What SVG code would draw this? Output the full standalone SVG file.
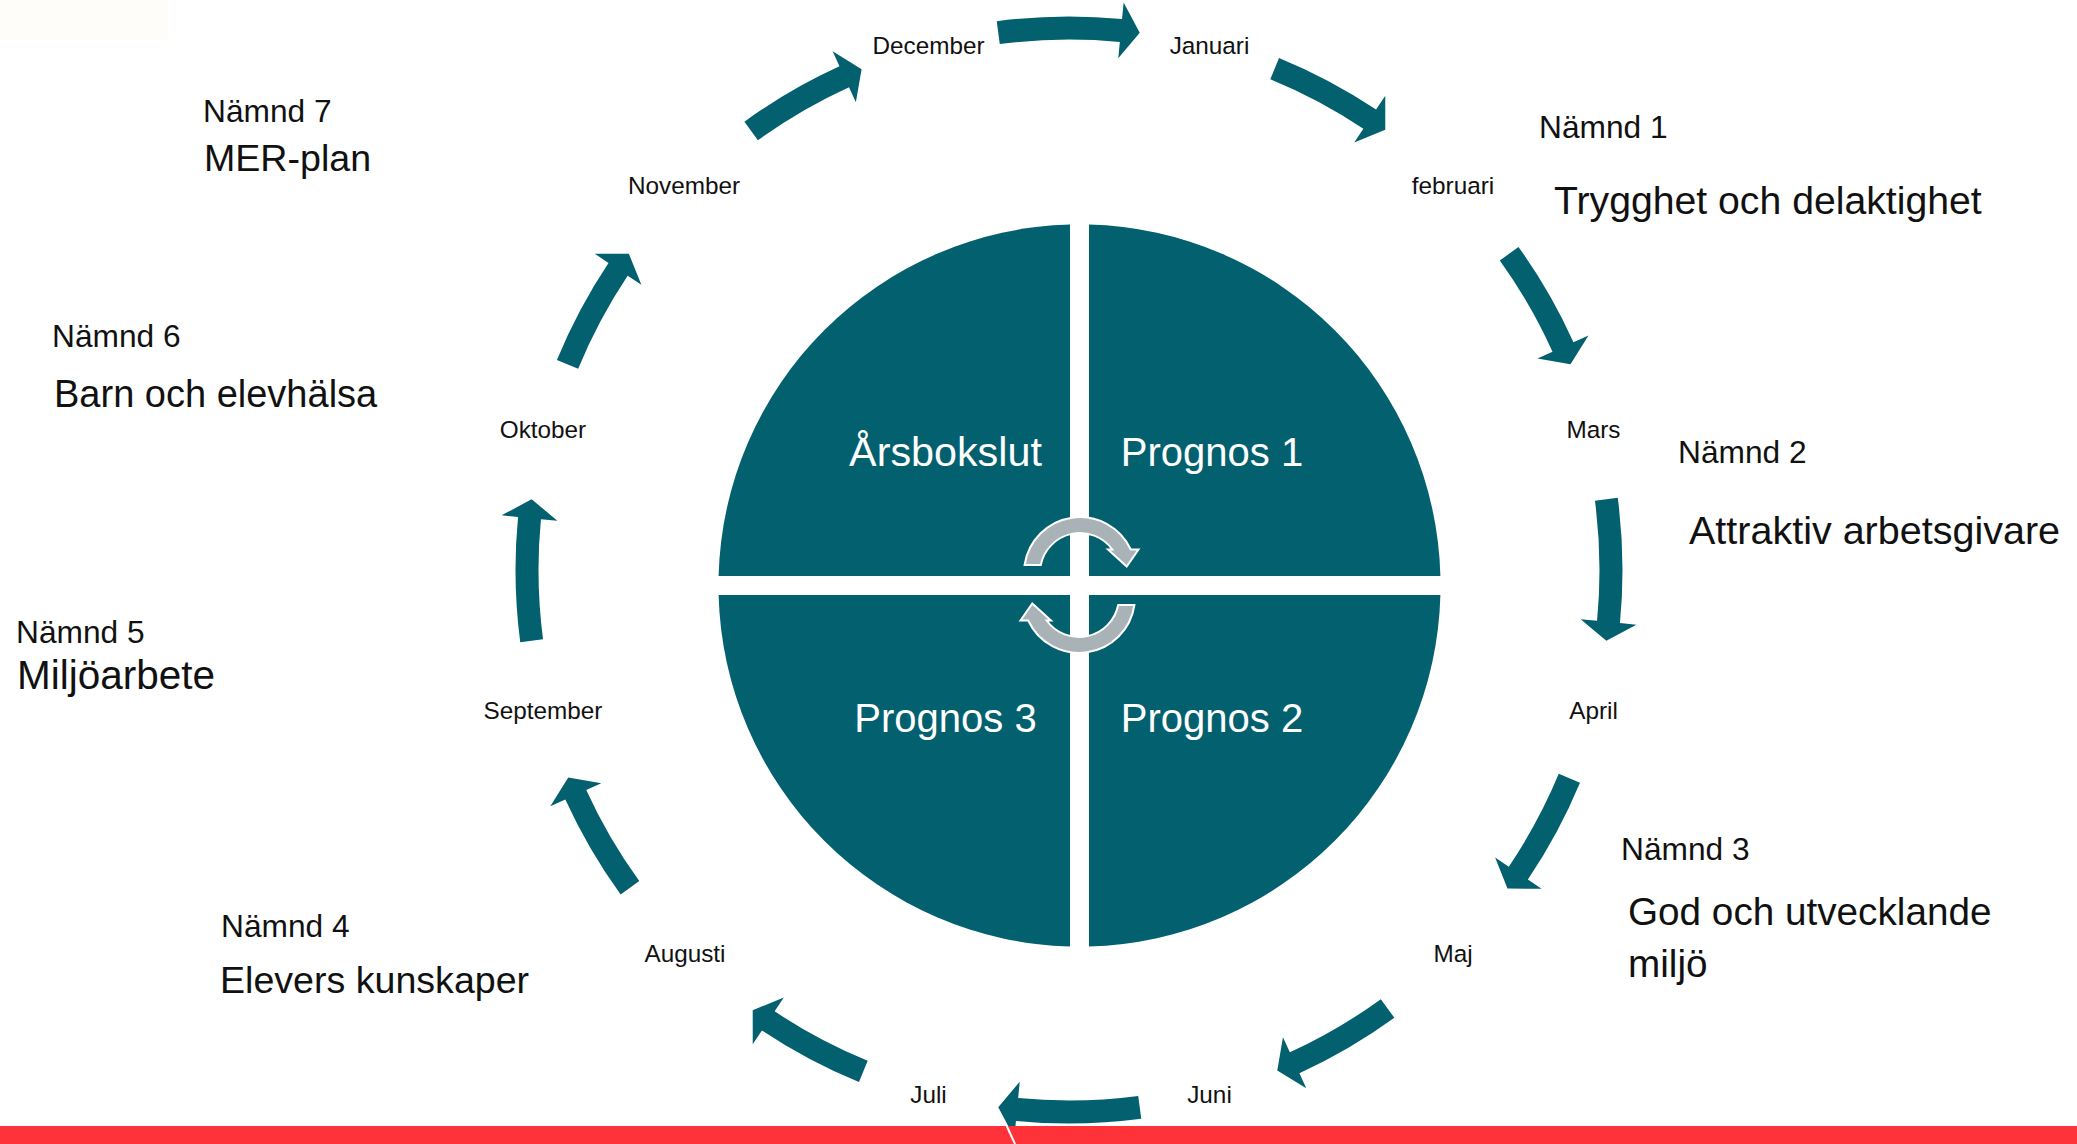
<svg xmlns="http://www.w3.org/2000/svg" xmlns:xlink="http://www.w3.org/1999/xlink" width="2077" height="1144" viewBox="0 0 2077 1144">
<style>
.q{fill:#03606F}
.ql{font-family:"Liberation Sans",Arial,sans-serif;font-size:40px;fill:#FFFFFF;text-anchor:middle}
.m{font-family:"Liberation Sans",Arial,sans-serif;font-size:24.3px;fill:#111111;text-anchor:middle}
.n{font-family:"Liberation Sans",Arial,sans-serif;font-size:31.7px;fill:#111111}
.t{font-family:"Liberation Sans",Arial,sans-serif;font-size:38px;fill:#111111}
.ra{fill:#03606F}
.ga{fill:#A8B2B7;stroke:#FFFFFF;stroke-width:2;stroke-linejoin:miter}
</style>
<defs>
<path id="ringArrow" d="M -72.25 -548.76 A 553.5 553.5 0 0 1 53.05 -550.95 L 54.63 -567.38 L 70.75 -537.36 L 49.26 -511.63 L 50.85 -528.06 A 530.5 530.5 0 0 0 -69.24 -525.96 Z"/>
<path id="ringArrowShort" d="M -64.58 -549.72 A 553.5 553.5 0 0 1 45.35 -551.64 L 46.71 -568.08 L 63.24 -538.30 L 42.12 -512.27 L 43.47 -528.72 A 530.5 530.5 0 0 0 -61.89 -526.88 Z"/>
<path id="cycleArrow" d="M 1024.6 565 A 56 56 0 0 1 1130.8 549.5 L 1138.5 549.5 L 1126.7 566.5 L 1108 549.5 L 1112.4 549.5 A 40 40 0 0 0 1040.8 565 Z"/>
</defs>
<rect x="0" y="0" width="2077" height="1144" fill="#FFFFFF"/>
<rect x="0" y="0" width="168" height="40" fill="#FFFDFA"/>

<g id="quadrants">
<g id="q-arsbokslut"><path class="q" d="M 1070 576 L 1070 224.6 A 361 361 0 0 0 718.6 576 Z"/><text class="ql" x="945.5" y="465.5" style="font-size:41.3px">Årsbokslut</text></g>
<g id="q-prognos1"><path class="q" d="M 1089 576 L 1440.4 576 A 361 361 0 0 0 1089 224.6 Z"/><text class="ql" x="1212" y="465.5">Prognos 1</text></g>
<g id="q-prognos2"><path class="q" d="M 1089 595 L 1089 946.4 A 361 361 0 0 0 1440.4 595 Z"/><text class="ql" x="1212" y="731.5">Prognos 2</text></g>
<g id="q-prognos3"><path class="q" d="M 1070 595 L 718.6 595 A 361 361 0 0 0 1070 946.4 Z"/><text class="ql" x="945.5" y="731.5">Prognos 3</text></g>
</g>

<g id="cycle-arrows">
<use xlink:href="#cycleArrow" href="#cycleArrow" class="ga"/>
<use xlink:href="#cycleArrow" href="#cycleArrow" class="ga" transform="rotate(180 1079.5 585)"/>
</g>

<g id="connectors">
<use xlink:href="#ringArrow" href="#ringArrow" class="ra" transform="translate(1069 570) rotate(0)"/>
<use xlink:href="#ringArrowShort" href="#ringArrowShort" class="ra" transform="translate(1069 570) rotate(29)"/>
<use xlink:href="#ringArrowShort" href="#ringArrowShort" class="ra" transform="translate(1069 570) rotate(61)"/>
<use xlink:href="#ringArrow" href="#ringArrow" class="ra" transform="translate(1069 570) rotate(90)"/>
<use xlink:href="#ringArrowShort" href="#ringArrowShort" class="ra" transform="translate(1069 570) rotate(119.3)"/>
<use xlink:href="#ringArrowShort" href="#ringArrowShort" class="ra" transform="translate(1069 570) rotate(150.7)"/>
<use xlink:href="#ringArrow" href="#ringArrow" class="ra" transform="translate(1069 570) rotate(180)"/>
<use xlink:href="#ringArrowShort" href="#ringArrowShort" class="ra" transform="translate(1069 570) rotate(209)"/>
<use xlink:href="#ringArrowShort" href="#ringArrowShort" class="ra" transform="translate(1069 570) rotate(240.8)"/>
<use xlink:href="#ringArrow" href="#ringArrow" class="ra" transform="translate(1069 570) rotate(270)"/>
<use xlink:href="#ringArrowShort" href="#ringArrowShort" class="ra" transform="translate(1069 570) rotate(299)"/>
<use xlink:href="#ringArrowShort" href="#ringArrowShort" class="ra" transform="translate(1069 570) rotate(330.8)"/>
</g>

<g id="months">
<g id="m-januari"><text class="m" x="1209.5" y="53.5">Januari</text></g>
<g id="m-februari"><text class="m" x="1453" y="194">februari</text></g>
<g id="m-mars"><text class="m" x="1593.5" y="437.5">Mars</text></g>
<g id="m-april"><text class="m" x="1593.5" y="718.5">April</text></g>
<g id="m-maj"><text class="m" x="1453" y="962">Maj</text></g>
<g id="m-juni"><text class="m" x="1209.5" y="1102.5">Juni</text></g>
<g id="m-juli"><text class="m" x="928.5" y="1102.5">Juli</text></g>
<g id="m-augusti"><text class="m" x="685" y="962">Augusti</text></g>
<g id="m-september"><text class="m" x="543" y="718.5">September</text></g>
<g id="m-oktober"><text class="m" x="543" y="437.5">Oktober</text></g>
<g id="m-november"><text class="m" x="684" y="194">November</text></g>
<g id="m-december"><text class="m" x="928.5" y="53.5">December</text></g>
</g>

<g id="namnder">
<g id="namnd1"><text class="n" x="1539" y="138">Nämnd 1</text><text class="t" x="1554" y="214" style="font-size:39.2px">Trygghet och delaktighet</text></g>
<g id="namnd2"><text class="n" x="1678" y="462.5">Nämnd 2</text><text class="t" x="1689" y="544" style="font-size:39.5px">Attraktiv arbetsgivare</text></g>
<g id="namnd3"><text class="n" x="1621" y="860">Nämnd 3</text><text class="t" x="1628" y="925" style="font-size:38.7px">God och utvecklande</text><text class="t" x="1628" y="977" style="font-size:38.7px">miljö</text></g>
<g id="namnd4"><text class="n" x="221" y="936.5">Nämnd 4</text><text class="t" x="220" y="993" style="font-size:37.6px">Elevers kunskaper</text></g>
<g id="namnd5"><text class="n" x="16" y="642.5">Nämnd 5</text><text class="t" x="17" y="689" style="font-size:40.5px">Miljöarbete</text></g>
<g id="namnd6"><text class="n" x="52" y="347">Nämnd 6</text><text class="t" x="54" y="407">Barn och elevhälsa</text></g>
<g id="namnd7"><text class="n" x="203" y="122">Nämnd 7</text><text class="t" x="204" y="171" style="font-size:37.6px">MER-plan</text></g>
</g>

<g id="footer-bar">
<rect x="0" y="1126" width="2077" height="18" fill="#FE3339"/>
<line x1="1006.7" y1="1126" x2="1015" y2="1144" stroke="#FFFFFF" stroke-width="2"/>
</g>
</svg>
